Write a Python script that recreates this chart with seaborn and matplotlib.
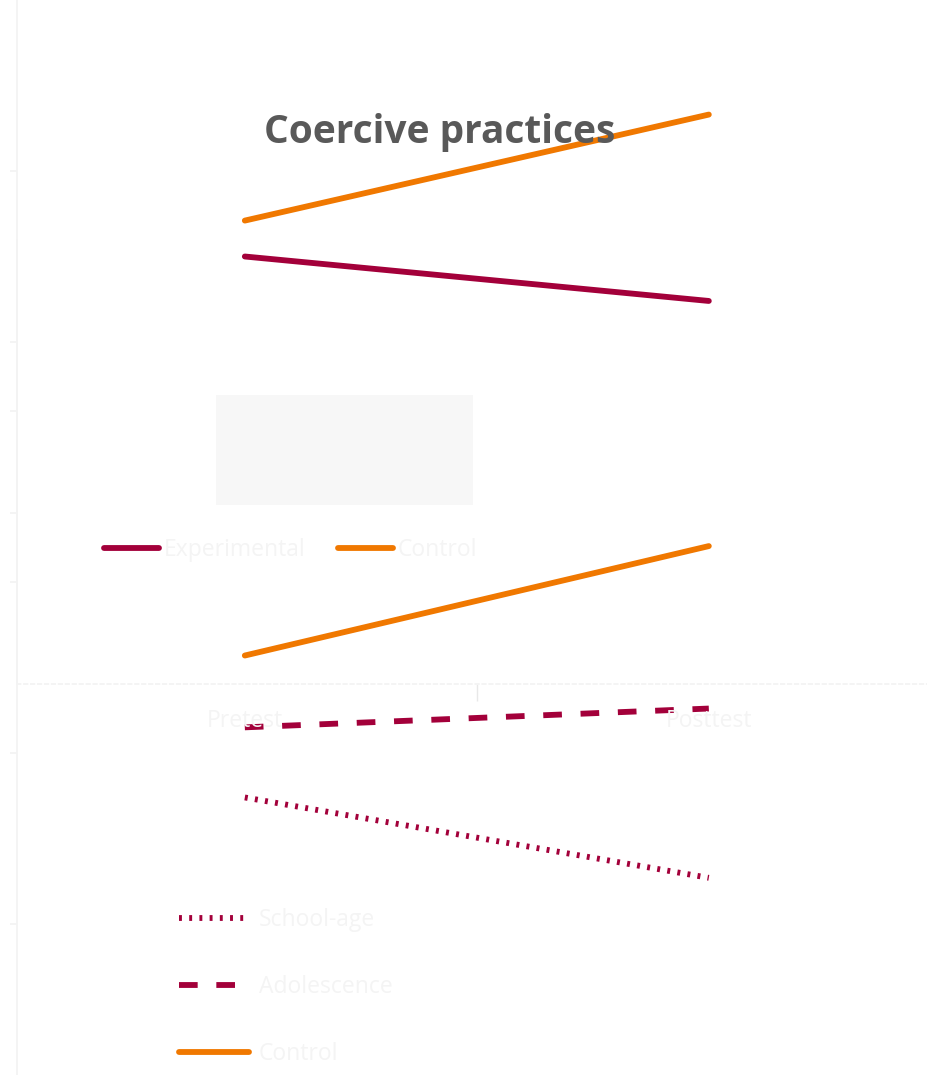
import matplotlib
matplotlib.use("Agg")
import matplotlib.pyplot as plt
from matplotlib.lines import Line2D
from matplotlib.patches import Rectangle
import seaborn as sns
import pandas as pd

# ---------------- data ----------------
times = ["Pretest", "Posttest"]

# chart 1: Coercive practices by group
groups1 = ["Experimental", "Control"]
experimental = [2.50, 2.24]
control1 = [2.71, 3.33]

# chart 2 (overlaid): by age group
groups2 = ["School-age", "Adolescence", "Control"]
school_age = [1.74, 1.27]
adolescence = [2.15, 2.26]
control2 = [2.57, 3.21]

title = "Coercive practices"

MAROON = "#A3003A"
ORANGE = "#F07800"
FAINT = "#f3f3f3"
TEXT_FAINT = "#f4f4f4"

sns.set_theme(style="white")
plt.rcParams["font.family"] = ["Open Sans", "DejaVu Sans"]

W, H = 927, 1075
fig = plt.figure(figsize=(W / 100, H / 100), dpi=100)
fig.patch.set_facecolor("white")

def frac_box(left_px, top_px, right_px, bottom_px):
    return [left_px / W, 1 - bottom_px / H, (right_px - left_px) / W, (bottom_px - top_px) / H]

XLIM = (-0.491, 1.509)

# grey empty box (decoration)
fig.patches.append(Rectangle((216 / W, 1 - 505 / H), (473 - 216) / W, (505 - 395) / H,
                             transform=fig.transFigure, facecolor="#f7f7f7",
                             edgecolor="none", zorder=0))

# ---------- bottom (overlaid) chart ----------
ax2 = fig.add_axes(frac_box(17, 240, 945, 1095))
ax2.patch.set_alpha(0)
df2 = pd.DataFrame({
    "time": times * 3,
    "score": school_age + adolescence + control2,
    "group": [g for g in groups2 for _ in times],
})
sns.lineplot(data=df2, x="time", y="score", hue="group", style="group",
             palette={"School-age": MAROON, "Adolescence": MAROON, "Control": ORANGE},
             dashes={"School-age": (0.5, 1.25), "Adolescence": (3.2, 3.2), "Control": ""},
             linewidth=4.2, sort=False, legend=False, ax=ax2)
ax2.set_xlim(*XLIM)
ax2.set_ylim(0, 5)
ax2.set_xticks([])
ax2.set_yticks([0, 1, 2, 3, 4])
ax2.set_yticklabels([])
ax2.tick_params(axis="y", length=5, color=FAINT, left=True)
ax2.set_xlabel("")
ax2.set_ylabel("")
for s in ["top", "right", "bottom"]:
    ax2.spines[s].set_visible(False)
ax2.spines["left"].set_color(FAINT)

# ---------- top chart ----------
ax1 = fig.add_axes(frac_box(17, 0, 945, 684))
ax1.patch.set_alpha(0)
df1 = pd.DataFrame({
    "time": times * 2,
    "score": experimental + control1,
    "group": [g for g in groups1 for _ in times],
})
sns.lineplot(data=df1, x="time", y="score", hue="group",
             palette={"Experimental": MAROON, "Control": ORANGE},
             linewidth=4.2, sort=False, legend=False, ax=ax1)
ax1.set_xlim(*XLIM)
ax1.set_ylim(0, 4)
ax1.set_yticks([1, 2, 3])
ax1.set_yticklabels([])
ax1.tick_params(axis="y", length=5, color=FAINT, left=True)
ax1.set_xticks([0, 1])
ax1.set_xticklabels(times, fontsize=16.5, color=TEXT_FAINT)
ax1.set_xticks([0.5], minor=True)
ax1.tick_params(axis="x", which="major", length=0, pad=18, bottom=True)
ax1.tick_params(axis="x", which="minor", length=12, color="#e8e8e8", width=1, bottom=True)
ax1.set_xlabel("")
ax1.set_ylabel("")
for s in ["top", "right"]:
    ax1.spines[s].set_visible(False)
ax1.spines["left"].set_color(FAINT)
ax1.spines["bottom"].set_color(FAINT)
ax1.spines["bottom"].set_linestyle((0, (2, 2)))

# ---------- title ----------
fig.text(440 / W, 1 - 133 / H, title, ha="center", va="center",
         fontsize=28, fontweight="bold", color="#595959", zorder=10)

# ---------- legends ----------
h1 = [Line2D([], [], color=MAROON, lw=4.2), Line2D([], [], color=ORANGE, lw=4.2)]
leg1 = fig.legend(h1, groups1, loc="center left", bbox_to_anchor=(104 / W, 1 - 550 / H),
                  ncol=2, frameon=False, fontsize=16.5, handlelength=2.4,
                  handletextpad=0.22, columnspacing=1.4, borderpad=0, borderaxespad=0)
for t in leg1.get_texts():
    t.set_color(TEXT_FAINT)

h2 = [Line2D([], [], color=MAROON, lw=4.2, dashes=(0.5, 1.25)),
      Line2D([], [], color=MAROON, lw=4.2, dashes=(3.2, 3.2)),
      Line2D([], [], color=ORANGE, lw=4.2)]
leg2 = fig.legend(h2, groups2, loc="center left", bbox_to_anchor=(179 / W, 1 - 987 / H),
                  ncol=1, frameon=False, fontsize=16.5, handlelength=3.05,
                  handletextpad=0.44, labelspacing=1.88, borderpad=0, borderaxespad=0)
for t in leg2.get_texts():
    t.set_color(TEXT_FAINT)

fig.savefig("out.png", dpi=100, facecolor="white")
